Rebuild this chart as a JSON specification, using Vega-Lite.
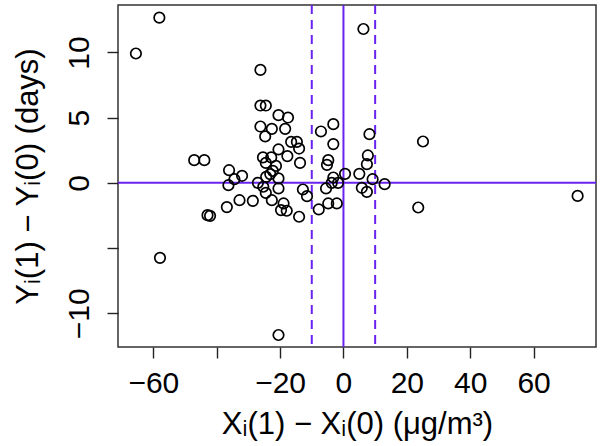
{
  "$schema": "https://vega.github.io/schema/vega-lite/v6.json",
  "width": 478,
  "height": 342,
  "autosize": {"type": "none"},
  "padding": {"left": 118, "top": 5, "right": 5, "bottom": 99},
  "background": "white",
  "config": {
    "font": "Liberation Sans, DejaVu Sans, sans-serif",
    "view": {"stroke": "#333333", "strokeWidth": 1.5},
    "axis": {"grid": false, "domain": false, "tickColor": "#222222", "tickWidth": 1.4, "tickSize": 11, "labelColor": "black", "titleColor": "black", "labelFont": "Liberation Sans, DejaVu Sans, sans-serif", "titleFont": "Liberation Sans, DejaVu Sans, sans-serif", "titleFontWeight": "normal"}
  },
  "datasets": {
    "pts": [
      {"dx": -58.1, "dy": 12.67}, {"dx": -65.5, "dy": 9.92}, {"dx": -26.2, "dy": 8.66},
      {"dx": -26.2, "dy": 5.93}, {"dx": -24.5, "dy": 5.93}, {"dx": -20.5, "dy": 5.19},
      {"dx": -17.5, "dy": 5.01}, {"dx": -26.2, "dy": 4.32}, {"dx": -22.6, "dy": 4.14},
      {"dx": -18.4, "dy": 4.14}, {"dx": -24.7, "dy": 3.56}, {"dx": -7.1, "dy": 3.94},
      {"dx": -3.2, "dy": 4.5}, {"dx": -3.2, "dy": 2.97}, {"dx": -16.5, "dy": 3.14},
      {"dx": -14.7, "dy": 3.14}, {"dx": -14.0, "dy": 2.63}, {"dx": -20.5, "dy": 2.56},
      {"dx": -17.7, "dy": 2.05}, {"dx": -13.7, "dy": 1.53}, {"dx": -25.4, "dy": 1.95},
      {"dx": -22.8, "dy": 1.95}, {"dx": -24.5, "dy": 1.53}, {"dx": -21.3, "dy": 1.3},
      {"dx": -22.3, "dy": 0.92}, {"dx": -23.1, "dy": 0.67}, {"dx": -24.4, "dy": 0.46},
      {"dx": -20.5, "dy": 0.34}, {"dx": -47.1, "dy": 1.74}, {"dx": -43.9, "dy": 1.74},
      {"dx": -36.1, "dy": 0.97}, {"dx": -32.0, "dy": 0.54}, {"dx": -34.4, "dy": 0.28},
      {"dx": -36.3, "dy": -0.18}, {"dx": -27.0, "dy": 0.0}, {"dx": -4.8, "dy": 1.74},
      {"dx": -5.2, "dy": 1.38}, {"dx": -3.2, "dy": 0.41}, {"dx": -3.7, "dy": 0.0},
      {"dx": -1.7, "dy": 0.0}, {"dx": 0.5, "dy": 0.69}, {"dx": -25.3, "dy": -0.3},
      {"dx": -20.5, "dy": -0.43}, {"dx": -24.5, "dy": -0.77}, {"dx": -22.6, "dy": -1.33},
      {"dx": -18.9, "dy": -1.58}, {"dx": -19.7, "dy": -2.09}, {"dx": -17.9, "dy": -2.14},
      {"dx": -14.0, "dy": -2.6}, {"dx": -36.8, "dy": -1.86}, {"dx": -32.8, "dy": -1.33},
      {"dx": -28.6, "dy": -1.38}, {"dx": -42.9, "dy": -2.48}, {"dx": -42.1, "dy": -2.53},
      {"dx": -12.8, "dy": -0.51}, {"dx": -11.5, "dy": -1.02}, {"dx": -7.8, "dy": -2.04},
      {"dx": -4.8, "dy": -1.58}, {"dx": -2.1, "dy": -1.58}, {"dx": -5.5, "dy": -0.43},
      {"dx": -57.9, "dy": -5.75}, {"dx": -20.5, "dy": -11.67}, {"dx": 6.3, "dy": 11.8},
      {"dx": 8.2, "dy": 3.73}, {"dx": 25.1, "dy": 3.17}, {"dx": 7.7, "dy": 2.1},
      {"dx": 7.4, "dy": 1.43}, {"dx": 5.0, "dy": 0.69}, {"dx": 9.2, "dy": 0.28},
      {"dx": 13.0, "dy": -0.1}, {"dx": 5.8, "dy": -0.38}, {"dx": 7.4, "dy": -0.69},
      {"dx": 73.9, "dy": -1.0}, {"dx": 23.6, "dy": -1.89}
    ]
  },
  "layer": [
    {
      "data": {"values": [{"v": 0}]},
      "mark": {"type": "rule", "color": "#6A22F0", "strokeWidth": 2},
      "encoding": {"y": {"field": "v", "type": "quantitative", "scale": {"domain": [-12.59, 13.64], "nice": false, "zero": false}}}
    },
    {
      "data": {"values": [{"v": 0}]},
      "mark": {"type": "rule", "color": "#6A22F0", "strokeWidth": 2},
      "encoding": {"x": {"field": "v", "type": "quantitative", "scale": {"domain": [-71.15, 79.7], "nice": false, "zero": false}}}
    },
    {
      "data": {"values": [{"v": -10}, {"v": 10}]},
      "mark": {"type": "rule", "color": "#6A22F0", "strokeWidth": 2, "strokeDash": [9, 6]},
      "encoding": {"x": {"field": "v", "type": "quantitative"}}
    },
    {
      "data": {"name": "pts"},
      "mark": {"type": "point", "shape": "circle", "filled": false, "color": "black", "size": 110, "strokeWidth": 1.7, "opacity": 1},
      "encoding": {
        "x": {"field": "dx", "type": "quantitative",
          "axis": {"values": [-60, -40, -20, 0, 20, 40, 60], "labelExpr": "datum.value == -40 ? '' : datum.label", "labelFontSize": 30, "labelPadding": 10, "labelFlush": false, "labelOverlap": false,
            "title": "Xᵢ(1) − Xᵢ(0) (μg/m³)", "titleFontSize": 31, "titleBaseline": "alphabetic", "titleY": 86}},
        "y": {"field": "dy", "type": "quantitative",
          "axis": {"values": [-10, -5, 0, 5, 10], "labelExpr": "datum.value == -5 ? '' : datum.label", "labelFontSize": 30, "labelAngle": 270, "labelAlign": "center", "labelBaseline": "alphabetic", "labelPadding": 19, "labelFlush": false, "labelOverlap": false,
            "title": "Yᵢ(1) − Yᵢ(0) (days)", "titleFontSize": 31, "titleBaseline": "alphabetic", "titleAngle": 270, "titleX": -81}}
      }
    }
  ]
}
